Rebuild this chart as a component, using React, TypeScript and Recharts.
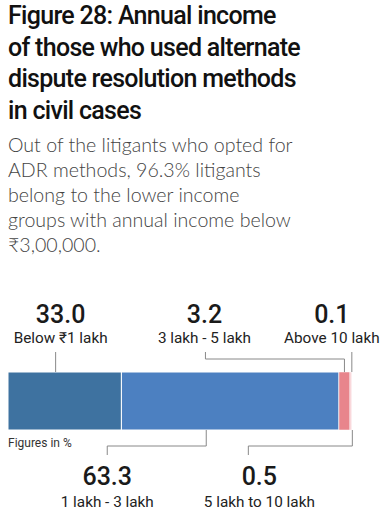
import { BarChart, Bar, XAxis, YAxis } from "recharts"

const categories = ["Below ₹1 lakh", "1 lakh - 3 lakh", "3 lakh - 5 lakh", "5 lakh to 10 lakh", "Above 10 lakh"]
const values = [33.0, 63.3, 3.2, 0.5, 0.1]
const valueLabels = ["33.0", "63.3", "3.2", "0.5", "0.1"]
const colors = ["#3e72a0", "#4c80c1", "#e8858c", "#f8cdd1", "#f4b0b6"]

const titleLines = ["Figure 28: Annual income", "of those who used alternate", "dispute resolution methods", "in civil cases"]
const subtitleLines = [
  "Out of the litigants who opted for",
  "ADR methods, 96.3% litigants",
  "belong to the lower income",
  "groups with annual income below",
  "₹3,00,000.",
]

// where each annotation sits relative to its segment
const annotations = [
  { side: "top", frac: 0.42, elbowDx: 0, labelDx: 5 },
  { side: "bottom", frac: 0.39, elbowDx: -99, labelDx: -99 },
  { side: "top", frac: 0.5, elbowDx: -139, labelDx: -140 },
  { side: "bottom", frac: 1.4, elbowDx: -104, labelDx: -93 },
  { side: "top", frac: 0.5, elbowDx: 0, labelDx: -20 },
]

const row: Record<string, number | string> = { name: "income" }
values.forEach((v, i) => (row["s" + i] = v))
const data = [row]

const FONT = "Roboto, 'Noto Sans', sans-serif"

function renderAnnotation(p: any, i: number) {
  const a = annotations[i]
  const x = Number(p.x), y = Number(p.y), w = Number(p.width), h = Number(p.height)
  const px = x + w * a.frac
  const ex = px + a.elbowDx
  const lx = px + a.labelDx
  let path: string
  let valueY: number, catY: number
  if (a.side === "top") {
    path = a.elbowDx === 0
      ? `M${px},${y} V${y - 20}`
      : `M${px},${y} V${y - 13} H${ex} V${y - 20}`
    valueY = y - 49
    catY = y - 29
  } else {
    const b = y + h
    path = `M${px},${b} V${b + 16} H${ex} V${b + 25}`
    valueY = b + 55
    catY = b + 77
  }
  return (
    <g key={"ann" + i}>
      <path d={path} fill="none" stroke="#888" strokeWidth={1} />
      <text x={lx} y={valueY} textAnchor="middle" fontFamily={FONT} fontWeight={500} fontSize={25} fill="#1a1a1a">
        {valueLabels[i]}
      </text>
      <text x={lx} y={catY} textAnchor="middle" fontFamily={FONT} fontSize={15.3} fill="#222">
        {categories[i]}
      </text>
    </g>
  )
}

export default function App() {
  return (
    <div style={{ position: "absolute", left: 0, top: 0, width: 386, height: 512, background: "#fff", overflow: "hidden" }}>
      <div
        style={{
          position: "absolute", left: 8, top: 0, fontFamily: "Roboto, sans-serif",
          fontWeight: 500, fontSize: 25, letterSpacing: -0.7, lineHeight: "31.5px", color: "#111", whiteSpace: "nowrap",
        }}
      >
        {titleLines.map((l) => <div key={l}>{l}</div>)}
      </div>
      <div
        style={{
          position: "absolute", left: 8, top: 132, fontFamily: "Lato, sans-serif", fontWeight: 300,
          fontSize: 19.6, lineHeight: "25px", color: "#444", whiteSpace: "nowrap",
        }}
      >
        {subtitleLines.map((l) => <div key={l}>{l}</div>)}
      </div>
      <div style={{ position: "absolute", left: 8, top: 436, fontFamily: FONT, fontSize: 12, color: "#333" }}>
        Figures in %
      </div>
      <BarChart
        width={386}
        height={512}
        data={data}
        layout="vertical"
        margin={{ top: 372, right: 34, bottom: 82, left: 8 }}
        barCategoryGap={0}
        style={{ position: "absolute", left: 0, top: 0 }}
      >
        <XAxis type="number" domain={[0, 100.1]} hide />
        <YAxis type="category" dataKey="name" hide />
        {values.map((_, i) => (
          <Bar
            key={i}
            dataKey={"s" + i}
            stackId="a"
            fill={colors[i]}
            stroke="#fff"
            strokeWidth={i < 2 ? 1 : 0.5}
            isAnimationActive={false}
            label={(p: any) => renderAnnotation(p, i)}
          />
        ))}
      </BarChart>
    </div>
  )
}
